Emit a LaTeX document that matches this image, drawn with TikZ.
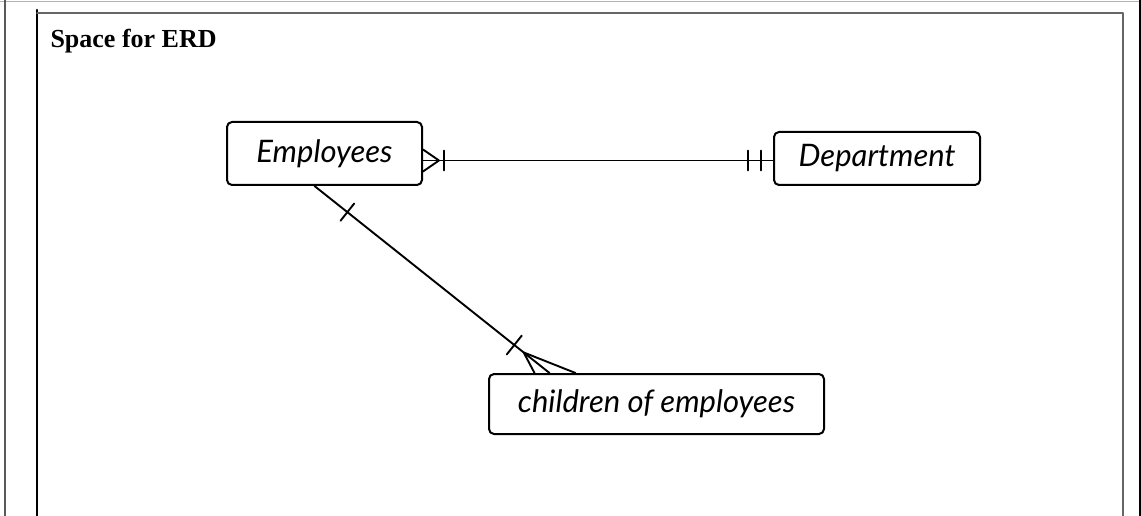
\documentclass[tikz,border=0pt]{standalone}
\usepackage{fontspec}
\setmainfont{Liberation Serif}
\newfontfamily\handfont{Lato}
\usepackage{tikz}
\usetikzlibrary{positioning,calc}

\begin{document}
\begin{tikzpicture}[x=1pt,y=-1pt,line cap=round,line join=round]
\tikzstyle{box}=[draw,line width=2pt,rounded corners=5pt,inner sep=0pt,font=\handfont\itshape\fontsize{31}{32}\selectfont]
\tikzstyle{link}=[line width=1.9pt]
\useasboundingbox (0,0) rectangle (1141,516);
% page frame
\draw[gray!60,line width=1pt] (0,2) -- (1141,2);
\draw[gray!70!black,line width=2pt] (5,0) -- (5,516);
\draw[line width=2.6pt] (37,10) -- (37,516);
\draw[gray!80!black,line width=1.8pt] (37,13) -- (1123,13) -- (1123,516);
\draw[line width=3pt] (1140,0) -- (1140,516);
\node[anchor=base west,font=\bfseries\fontsize{26}{28}\selectfont] (title) at (47,48) {Space for ERD};
% entities
\node[box,minimum width=195pt,minimum height=63pt] (emp) at (324.5,153.5) {Employees};
\node[box,right=350pt of emp,yshift=-5pt,minimum width=206pt,minimum height=53pt] (dept) {Department};
\node[box,below right=187pt and 65pt of emp,minimum width=335pt,minimum height=60pt] (kids) {children of employees};
% Employees -- Department
\coordinate (e1) at ([yshift=-7pt]emp.east);
\coordinate (d1) at (dept.west |- e1);
\draw[link] (e1) -- (d1);
\draw[link] ([yshift=11pt]e1) -- ($(e1)!16pt!(d1)$) -- ([yshift=-11pt]e1);
\draw[link] ($(e1)!21pt!(d1)$) ++(0,-10) -- ++(0,20);
\draw[link] ($(d1)!12pt!(e1)$) ++(0,-10) -- ++(0,20);
\draw[link] ($(d1)!25pt!(e1)$) ++(0,-10) -- ++(0,20);
% Employees -- children
\coordinate (e2) at ([xshift=-10pt]emp.south);
\coordinate (c2) at ([xshift=-107pt]kids.north);
\draw[link] (e2) -- (c2);
\draw[link] ($(e2)!42pt!(c2)!11pt!90:(c2)$) -- ($(e2)!42pt!(c2)!11pt!-90:(c2)$);
\draw[link] ($(c2)!45pt!(e2)!12pt!90:(e2)$) -- ($(c2)!45pt!(e2)!12pt!-90:(e2)$);
\draw[link] ([xshift=-15pt]c2) -- ($(c2)!33pt!(e2)$) -- ([xshift=26pt]c2);
\end{tikzpicture}
\end{document}
